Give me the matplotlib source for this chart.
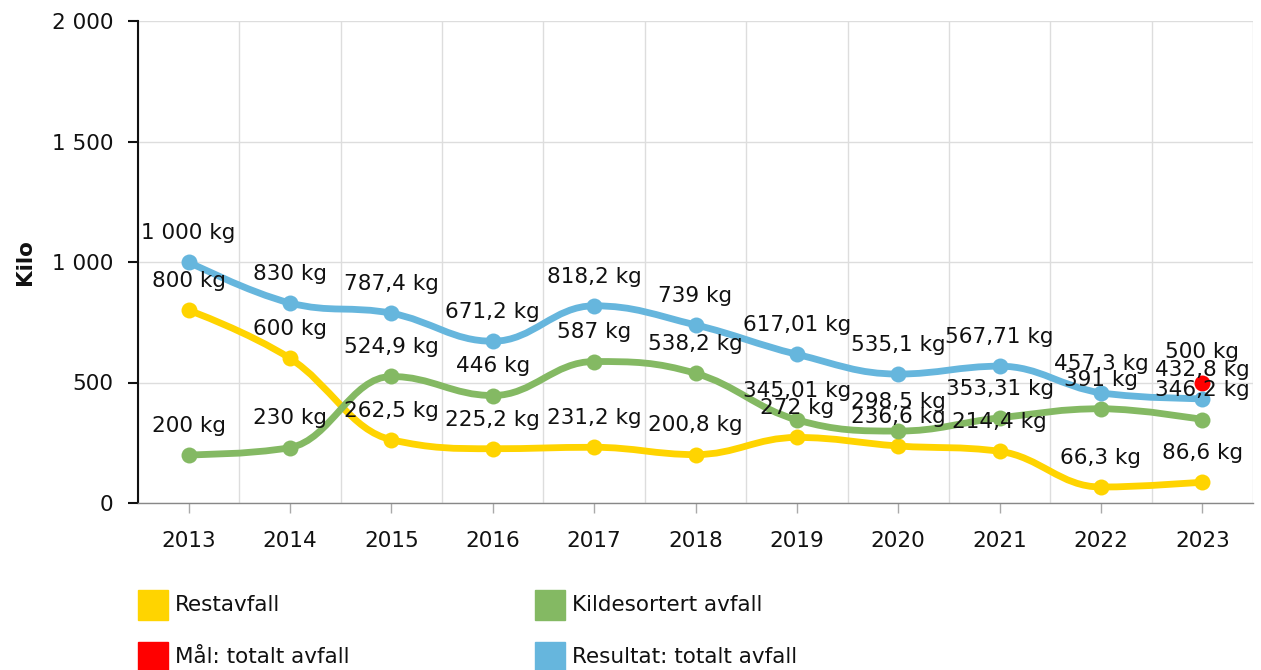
import numpy as np
import matplotlib
matplotlib.use("Agg")
import matplotlib.pyplot as plt
from matplotlib.path import Path
from matplotlib.patches import PathPatch, Rectangle
from matplotlib.ticker import FuncFormatter

years = ["2013", "2014", "2015", "2016", "2017", "2018", "2019", "2020", "2021", "2022", "2023"]
restavfall = [800, 600, 262.5, 225.2, 231.2, 200.8, 272, 236.6, 214.4, 66.3, 86.6]
kildesortert = [200, 230, 524.9, 446, 587, 538.2, 345.01, 298.5, 353.31, 391, 346.2]
totalt = [1000, 830, 787.4, 671.2, 818.2, 739, 617.01, 535.1, 567.71, 457.3, 432.8]
maal_year = "2023"
maal_value = 500

YELLOW = "#FFD400"
GREEN = "#84B963"
RED = "#FF0000"
BLUE = "#66B6DD"

plt.rcParams["font.family"] = ["DejaVu Sans"]
FS = 15.5


def fmt_num(v, unit=""):
    s = f"{v:,.2f}".rstrip("0").rstrip(".")
    s = s.replace(",", " ").replace(".", ",")
    return s + unit


def spline_path(xs, ys, smoothing=1.5):
    # highcharts-like spline, bezier control points
    n = len(xs)
    left = [None] * n
    right = [None] * n
    d = smoothing + 1
    for i in range(n):
        x, y = xs[i], ys[i]
        if 0 < i < n - 1:
            lx, ly = xs[i - 1], ys[i - 1]
            nx, ny = xs[i + 1], ys[i + 1]
            lcx = (smoothing * x + lx) / d
            lcy = (smoothing * y + ly) / d
            rcx = (smoothing * x + nx) / d
            rcy = (smoothing * y + ny) / d
            if rcx != lcx:
                corr = (rcy - lcy) * (rcx - x) / (rcx - lcx) + y - rcy
                lcy += corr
                rcy += corr
            if lcy > ly and lcy > y:
                lcy = max(ly, y); rcy = 2 * y - lcy
            elif lcy < ly and lcy < y:
                lcy = min(ly, y); rcy = 2 * y - lcy
            if rcy > ny and rcy > y:
                rcy = max(ny, y); lcy = 2 * y - rcy
            elif rcy < ny and rcy < y:
                rcy = min(ny, y); lcy = 2 * y - rcy
            left[i] = (lcx, lcy)
            right[i] = (rcx, rcy)
        else:
            left[i] = right[i] = (x, y)
    verts = [(xs[0], ys[0])]
    codes = [Path.MOVETO]
    for i in range(1, n):
        verts += [right[i - 1], left[i], (xs[i], ys[i])]
        codes += [Path.CURVE4] * 3
    return Path(verts, codes)


fig = plt.figure(figsize=(12.61, 6.70), dpi=100)
ax = fig.add_axes([138 / 1261, 1 - 503 / 670, (1253 - 138) / 1261, (503 - 21) / 670])

x = np.arange(len(years))
series = [(restavfall, YELLOW, 3), (kildesortert, GREEN, 3.5), (totalt, BLUE, 5)]

for vals, col, zz in series:
    ax.add_patch(PathPatch(spline_path(list(x), vals), fill=False, ec=col, lw=4.9,
                           capstyle="round", joinstyle="round", zorder=zz))
    ax.plot(x, vals, "o", color=col, ms=11.5, mew=0, zorder=zz + 0.1)

mx = years.index(maal_year)
ax.plot([mx], [maal_value], "o", color=RED, ms=11.5, mew=0, zorder=4.5)

for vals in [restavfall, kildesortert, totalt]:
    for xi, v in zip(x, vals):
        ax.annotate(fmt_num(v, " kg"), (xi, v), xytext=(0, 21), textcoords="offset points",
                    ha="center", va="center", fontsize=FS, color="#111111", zorder=10)
ax.annotate(fmt_num(maal_value, " kg"), (mx, maal_value), xytext=(0, 22), textcoords="offset points",
            ha="center", va="center", fontsize=FS, color="#111111", zorder=10)

ax.set_xlim(-0.5, len(years) - 0.5)
ax.set_ylim(0, 2000)
ax.set_xticks(x)
ax.set_xticklabels(years)
ax.set_xticks(np.arange(-0.5, len(years), 1), minor=True)
ax.set_yticks([0, 500, 1000, 1500, 2000])
ax.yaxis.set_major_formatter(FuncFormatter(lambda v, p: fmt_num(v)))

ax.grid(True, axis="y", which="major", color="#DDDDDD", lw=1)
ax.grid(True, axis="x", which="minor", color="#DDDDDD", lw=1)
ax.set_axisbelow(True)

ax.tick_params(axis="x", which="major", length=7, width=1, color="#AAAAAA", pad=13,
               labelsize=FS, labelcolor="#111111")
ax.tick_params(axis="x", which="minor", length=0)
ax.tick_params(axis="y", length=7.5, width=1.5, color="#111111", pad=10,
               labelsize=FS, labelcolor="#111111")

for s in ["top", "right"]:
    ax.spines[s].set_visible(False)
ax.spines["left"].set_color("#111111")
ax.spines["left"].set_linewidth(1.5)
ax.spines["bottom"].set_color("#888888")
ax.spines["bottom"].set_linewidth(1)

fig.text(25 / 1261, 1 - 262 / 670, "Kilo", rotation=90, ha="center", va="center",
         fontsize=FS, fontweight="bold", color="#111111")

# legend
legend_items = [("Restavfall", YELLOW, 138, 605), ("Kildesortert avfall", GREEN, 535, 605),
                ("Mål: totalt avfall", RED, 138, 657), ("Resultat: totalt avfall", BLUE, 535, 657)]
for label, col, lx, ly in legend_items:
    fig.patches.append(Rectangle((lx / 1261, 1 - (ly + 15) / 670), 30 / 1261, 30 / 670,
                                 transform=fig.transFigure, color=col, figure=fig))
    fig.text((lx + 37) / 1261, 1 - ly / 670, label, ha="left", va="center",
             fontsize=FS, color="#111111")

fig.savefig("out.png", dpi=100)
